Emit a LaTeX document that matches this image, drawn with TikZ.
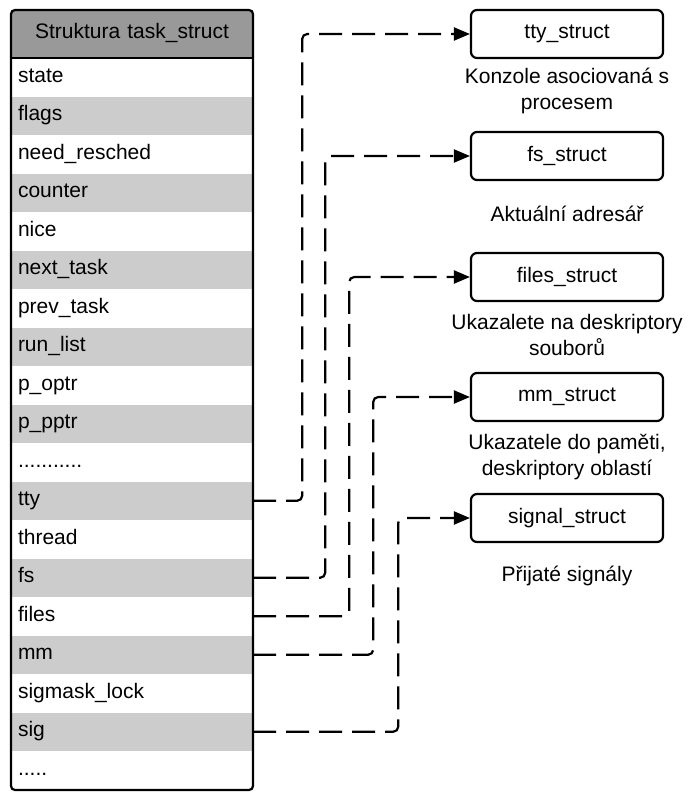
\documentclass[tikz,border=0pt]{standalone}
\usepackage{fontspec}
\setmainfont{Liberation Sans}
\usepackage{tikz}
\usetikzlibrary{arrows.meta,positioning}
\definecolor{headgray}{RGB}{153,153,153}
\definecolor{rowgray}{RGB}{204,204,204}
\newcommand{\dotsrow}{...........}
\newcommand{\dotsend}{.....}

\tikzset{
    row/.style={rectangle, minimum width=242pt, minimum height=38.5pt,
        text width=228pt, inner xsep=7pt, inner ysep=0pt, align=left,
        text height=14pt, text depth=4pt},
    structbox/.style={draw, line width=2.2pt, rounded corners=6pt,
        minimum width=192pt, minimum height=48pt},
    note/.style={align=center},
    link/.style={line width=2.2pt, dash pattern=on 23pt off 10pt,
        rounded corners=5pt, -{Triangle[length=16pt,width=13pt]}}
}

\begin{document}
\begin{tikzpicture}[x=1pt, y=-1pt, font=\fontsize{21}{26}\selectfont]
    \useasboundingbox (0,0) rectangle (689,792);

    % Header
    \node[row, fill=headgray, minimum height=48pt, align=center] (head) at (132,34) {Struktura task\_struct};

    % Rows of task_struct
    \foreach \txt [count=\i from 0] in {state, flags, need\_resched, counter, nice,
        next\_task, prev\_task, run\_list, p\_optr, p\_pptr, \dotsrow, tty, thread,
        fs, files, mm, sigmask\_lock, sig, \dotsend}
    {
        \ifodd\i \def\shade{rowgray}\else\def\shade{white}\fi
        \node[row, fill=\shade] (row\i) at (132,{77.25+38.5*\i}) {\txt};
    }

    % Outline
    \draw[line width=2.2pt] (head.south west) -- (head.south east);
    \draw[line width=2.2pt, rounded corners=4pt] (11,10) rectangle (253,790);

    % Target structures
    \node[structbox] (tty) at (567,34) {tty\_struct};
    \node[structbox] (fs) at (567,156) {fs\_struct};
    \node[structbox] (files) at (567,277) {files\_struct};
    \node[structbox] (mm) at (567,397) {mm\_struct};
    \node[structbox] (signal) at (567,518) {signal\_struct};

    % Descriptions
    \node[note] (ttynote) at (567,91) {Konzole asociovaná s\\procesem};
    \node[note] (fsnote) at (567,214) {Aktuální adresář};
    \node[note] (filesnote) at (567,335) {Ukazalete na deskriptory\\souborů};
    \node[note] (mmnote) at (567,457) {Ukazatele do paměti,\\deskriptory oblastí};
    \node[note] (signalnote) at (567,576) {Přijaté signály};

    % Pointers
    \draw[link] (row11.east) -- ++(49,0) |- (tty.west);
    \draw[link] (row13.east) -- ++(72,0) |- (fs.west);
    \draw[link] (row14.east) -- ++(96,0) |- (files.west);
    \draw[link] (row15.east) -- ++(120,0) |- (mm.west);
    \draw[link] (row17.east) -- ++(145,0) |- (signal.west);
\end{tikzpicture}
\end{document}
